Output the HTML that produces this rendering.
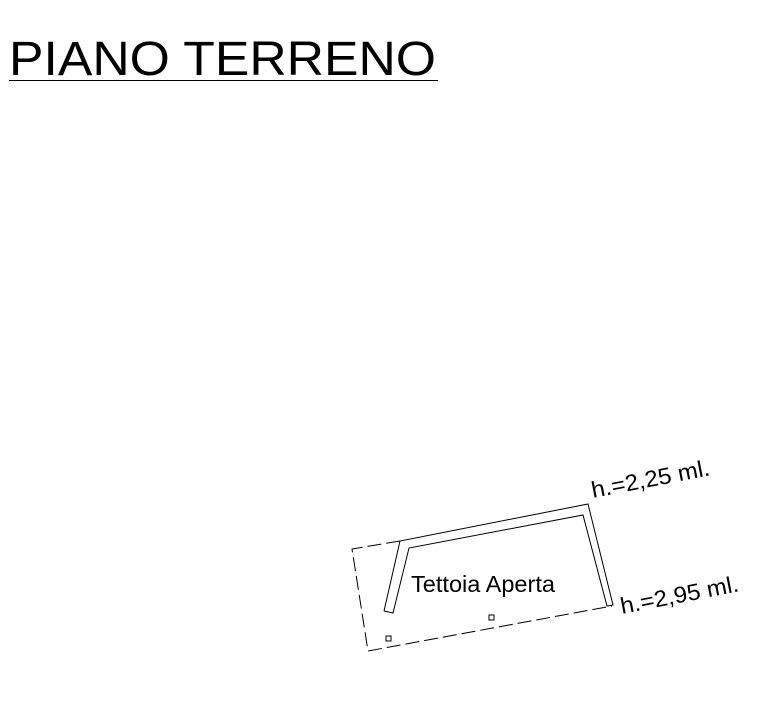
<!DOCTYPE html>
<html><head><style>body{margin:0;background:#fff;width:776px;height:714px;overflow:hidden}</style></head><body>
<svg width="776" height="714" xmlns="http://www.w3.org/2000/svg" font-family="Liberation Sans, sans-serif">
<text x="9" y="75" font-size="48" textLength="427" lengthAdjust="spacingAndGlyphs">PIANO TERRENO</text>
<line x1="9" y1="80.5" x2="438" y2="80.5" stroke="#000" stroke-width="1"/>
<g fill="none" stroke="#000" stroke-width="1">
<polyline points="384,611 400,541 588,504 613,605 607,606 583,515 409,548 393,613 384,611"/>
<polyline points="400,541 352,549 368,651 612,606" stroke-dasharray="14,5"/>
<rect x="386" y="636" width="5" height="5"/>
<rect x="489" y="615" width="5" height="5"/>
</g>
<text x="411" y="592" font-size="23" textLength="144" lengthAdjust="spacingAndGlyphs">Tettoia Aperta</text>
<text x="593" y="498" font-size="23" textLength="120" lengthAdjust="spacingAndGlyphs" transform="rotate(-11 593 498)">h.=2,25 ml.</text>
<text x="622" y="614" font-size="23" textLength="120" lengthAdjust="spacingAndGlyphs" transform="rotate(-11 622 614)">h.=2,95 ml.</text>
</svg>
</body></html>
